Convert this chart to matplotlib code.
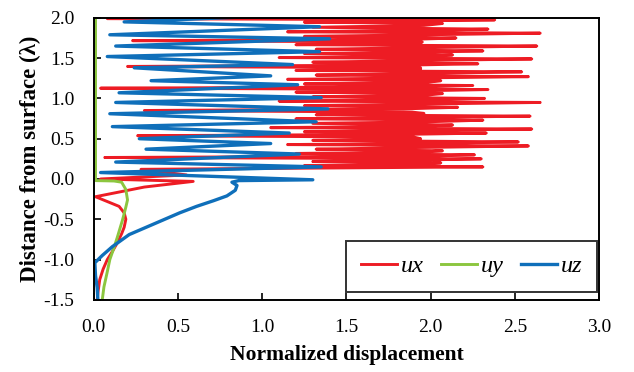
import matplotlib
matplotlib.use("Agg")
import matplotlib.pyplot as plt

plt.rcParams['font.family'] = ['Liberation Serif', 'DejaVu Serif']

# ux (red): smooth part below the surface, then the dense zigzag above it
ux_x = [0.02, 0.025, 0.035, 0.055, 0.08, 0.11, 0.14, 0.165, 0.18, 0.19, 0.18, 0.15, 0.08, 0.01,
        0.30, 0.59, 0.04, 0.55, 0.28,
        2.31, 1.25, 1.95,   2.06, 1.30, 1.92,   2.30, 0.065, 1.98,  2.26, 1.20, 1.95,
        2.07, 1.32, 1.90,   2.58, 1.15, 2.00,   2.52, 1.30, 1.94,   1.90, 0.26, 1.85,
        2.33, 1.25, 1.96,   2.60, 1.05, 1.92,   2.13, 1.30, 1.98,   2.31, 1.20, 1.94,
        2.59, 1.32, 1.96,   1.89, 0.30, 1.84,   2.16, 1.25, 1.95,   2.65, 1.10, 1.92,
        2.32, 1.30, 1.97,   2.07, 1.20, 1.93,   2.34, 0.04, 1.95,   2.25, 1.25, 1.98,
        2.06, 1.15, 1.92,   2.58, 1.32, 1.96,   2.54, 1.20, 1.94,   1.94, 0.20, 1.88,
        2.28, 1.30, 1.95,   2.60, 1.10, 1.98,   2.13, 1.25, 1.93,   2.31, 1.32, 1.96,
        2.63, 1.20, 1.92,   1.95, 0.23, 1.90,   2.15, 1.25, 1.97,   2.65, 1.15, 1.94,
        2.34, 1.30, 1.96,   2.07, 1.25, 1.95,   2.38, 0.08, 1.90]
ux_y = [-1.50, -1.40, -1.25, -1.12, -1.00, -0.90, -0.79, -0.68, -0.60, -0.50, -0.42, -0.34, -0.28, -0.22,
        -0.10, -0.03, 0.00, 0.05, 0.12,
        0.150, 0.167, 0.184,  0.200, 0.217, 0.234,  0.250, 0.267, 0.284,  0.300, 0.317, 0.334,
        0.350, 0.370, 0.390,  0.410, 0.427, 0.444,  0.460, 0.480, 0.500,  0.520, 0.537, 0.554,
        0.570, 0.587, 0.604,  0.620, 0.637, 0.654,  0.670, 0.690, 0.710,  0.730, 0.747, 0.764,
        0.780, 0.797, 0.814,  0.830, 0.850, 0.870,  0.890, 0.910, 0.930,  0.950, 0.967, 0.984,
        1.000, 1.020, 1.040,  1.060, 1.077, 1.094,  1.110, 1.127, 1.144,  1.160, 1.180, 1.200,
        1.220, 1.237, 1.254,  1.270, 1.290, 1.310,  1.330, 1.347, 1.364,  1.380, 1.397, 1.414,
        1.430, 1.450, 1.470,  1.490, 1.507, 1.524,  1.540, 1.557, 1.574,  1.590, 1.610, 1.630,
        1.650, 1.667, 1.684,  1.700, 1.717, 1.734,  1.750, 1.770, 1.790,  1.810, 1.827, 1.844,
        1.860, 1.883, 1.906,  1.930, 1.947, 1.964,  1.975, 1.990, 2.020]

# uy (green)
uy_x = [0.05, 0.06, 0.08, 0.095, 0.12, 0.14, 0.17, 0.19, 0.20, 0.19, 0.165, 0.12, 0.01, 0.01]
uy_y = [-1.50, -1.34, -1.15, -1.00, -0.85, -0.72, -0.51, -0.35, -0.26, -0.13, -0.04, -0.025, -0.02, 2.00]

# uz (blue)
uz_x = [0.024, 0.02, 0.01, 0.006, 0.05, 0.11, 0.21, 0.31, 0.41, 0.51, 0.61, 0.71, 0.79, 0.84, 0.85,
        0.82, 0.86, 1.30, 0.04, 1.35, 0.13, 1.22, 0.31, 1.05, 0.27, 1.16, 0.11, 1.32, 0.095, 1.39,
        0.13, 1.35, 0.15, 1.21, 0.34, 1.05, 0.24, 1.18, 0.08, 1.34, 0.13, 1.40, 0.095, 1.34, 0.18, 1.00]
uz_y = [-1.50, -1.35, -1.20, -1.04, -0.95, -0.84, -0.69, -0.60, -0.51, -0.42, -0.34, -0.27, -0.21, -0.14, -0.08,
        -0.04, -0.02, -0.01, 0.08, 0.15, 0.21, 0.31, 0.37, 0.44, 0.50, 0.57, 0.65, 0.71, 0.81, 0.87,
        0.95, 1.01, 1.07, 1.17, 1.22, 1.28, 1.38, 1.42, 1.52, 1.58, 1.65, 1.74, 1.79, 1.89, 1.95, 2.02]

x_ticks = [0.0, 0.5, 1.0, 1.5, 2.0, 2.5, 3.0]
y_ticks = [-1.5, -1.0, -0.5, 0.0, 0.5, 1.0, 1.5, 2.0]

fig = plt.figure(figsize=(6.34, 3.72), dpi=100)
ax = fig.add_axes([0.148, 0.194, 0.797, 0.758])

ax.plot(ux_x, ux_y, color='#ed1c24', lw=2.1, label='ux')
ax.plot(uy_x, uy_y, color='#8cc63f', lw=2.1, label='uy')
ax.plot(uz_x, uz_y, color='#0f6fba', lw=2.4, label='uz')

ax.set_xlim(0, 3.0)
ax.set_ylim(-1.5, 2.0)
ax.set_xticks(x_ticks)
ax.set_yticks(y_ticks)
ax.set_xticklabels([f'{v:.1f}' for v in x_ticks])
ax.set_yticklabels([f'{v:.1f}' for v in y_ticks])
ax.tick_params(direction='in', length=5, width=1.2, labelsize=14, pad=14, top=False, right=False)
for s in ax.spines.values():
    s.set_linewidth(1.4)
    s.set_color('black')

ax.set_xlabel('Normalized displacement', fontsize=15.5, fontweight='bold', labelpad=6)
ax.set_ylabel('Distance from surface (λ)', fontsize=16.5, fontweight='bold', labelpad=2)

leg = ax.legend(loc='lower right', bbox_to_anchor=(0.996, 0.028), borderaxespad=0, ncol=3,
                frameon=True, fancybox=False, edgecolor='black', handlelength=1.5,
                columnspacing=0.7, handletextpad=0.15, borderpad=0.6,
                prop={'family': 'Liberation Serif', 'style': 'italic', 'size': 17.5})
leg.get_frame().set_linewidth(1.4)

fig.savefig('out.png', dpi=100)
